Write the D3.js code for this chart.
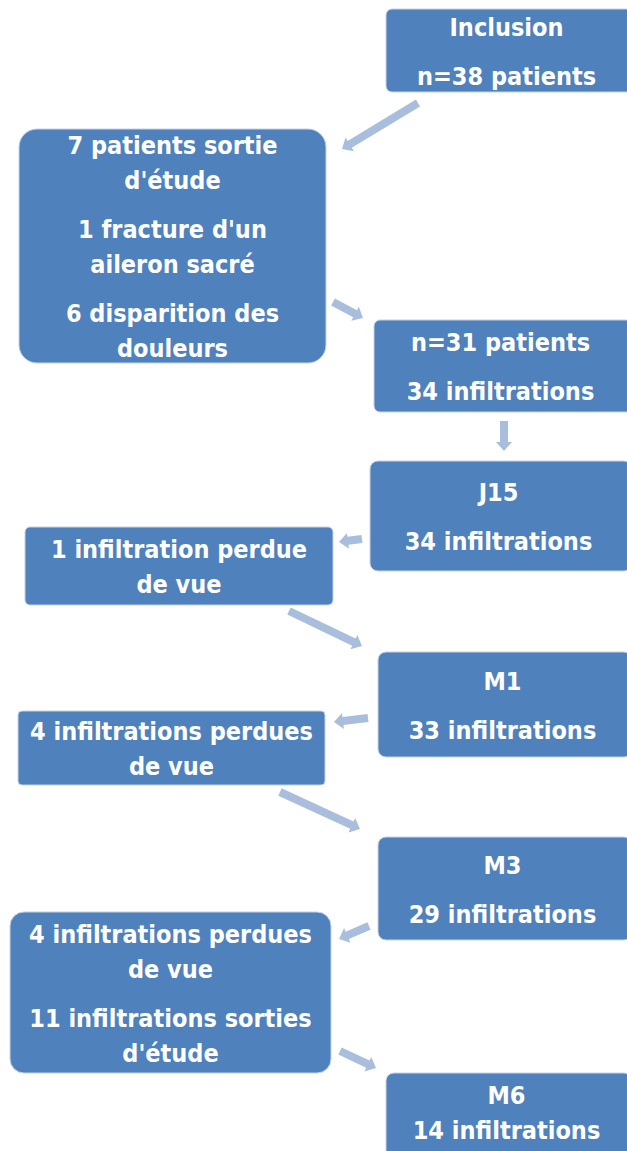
<!DOCTYPE html>
<html>
<head>
<meta charset="utf-8">
<script src="https://cdn.jsdelivr.net/npm/d3@7"></script>
<style>
  html, body { margin: 0; padding: 0; background: #fff; }
  svg { display: block; }
  .box-text { font-family: "DejaVu Sans Condensed", "DejaVu Sans", sans-serif; font-weight: bold; fill: #fff; }
</style>
</head>
<body>
<div id="chart"></div>
<script>
// Flowchart content: each box is a list of paragraphs, each paragraph a list of lines
const boxIds = ['incl', 'exit1', 'n31', 'j15', 'lost1', 'm1', 'lost2', 'm3', 'lost3', 'm6'];

const boxText = [
    [['Inclusion'], ['n=38 patients']],
    [['7 patients sortie', "d'étude"], ["1 fracture d'un", 'aileron sacré'], ['6 disparition des', 'douleurs']],
    [['n=31 patients'], ['34 infiltrations']],
    [['J15'], ['34 infiltrations']],
    [['1 infiltration perdue', 'de vue']],
    [['M1'], ['33 infiltrations']],
    [['4 infiltrations perdues', 'de vue']],
    [['M3'], ['29 infiltrations']],
    [['4 infiltrations perdues', 'de vue'], ['11 infiltrations sorties', "d'étude"]],
    [['M6', '14 infiltrations']]
];

const links = [
    ['incl', 'exit1'], ['exit1', 'n31'], ['n31', 'j15'], ['j15', 'lost1'], ['lost1', 'm1'],
    ['m1', 'lost2'], ['lost2', 'm3'], ['m3', 'lost3'], ['lost3', 'm6']
];

// Layout (pixels) — kept apart from the content
const boxLayout = {
    incl:  { x: 386, y: 9,    w: 246, h: 83,  r: 6 },
    exit1: { x: 19,  y: 129,  w: 307, h: 234, r: 18 },
    n31:   { x: 374, y: 320,  w: 258, h: 92,  r: 6 },
    j15:   { x: 370, y: 461,  w: 262, h: 110, r: 8 },
    lost1: { x: 25,  y: 527,  w: 308, h: 78,  r: 5 },
    m1:    { x: 378, y: 652,  w: 254, h: 105, r: 8 },
    lost2: { x: 18,  y: 711,  w: 307, h: 74,  r: 4 },
    m3:    { x: 378, y: 837,  w: 254, h: 103, r: 8 },
    lost3: { x: 10,  y: 912,  w: 321, h: 161, r: 14 },
    m6:    { x: 386, y: 1073, w: 246, h: 100, r: 8 }
};

const arrowLayout = [
    { x1: 418, y1: 103, x2: 342, y2: 149 },
    { x1: 333, y1: 302, x2: 363, y2: 318 },
    { x1: 504, y1: 421, x2: 504, y2: 451 },
    { x1: 362, y1: 539, x2: 339, y2: 542 },
    { x1: 289, y1: 611, x2: 362, y2: 646 },
    { x1: 368, y1: 718, x2: 334, y2: 722 },
    { x1: 280, y1: 792, x2: 360, y2: 829 },
    { x1: 369, y1: 926, x2: 339, y2: 939 },
    { x1: 340, y1: 1051, x2: 376, y2: 1068 }
];

const width = 627, height = 1151;
const boxFill = '#4F81BD';
const arrowFill = '#A9BEDC';
const fontSize = 25;
const lineGap = 35;
const paraGap = 49;

const svg = d3.select('#chart').append('svg')
    .attr('width', width)
    .attr('height', height);

// Arrows: thick shaft plus a small triangular head
function arrowPath(a) {
    const dx = a.x2 - a.x1, dy = a.y2 - a.y1;
    const len = Math.hypot(dx, dy);
    const ux = dx / len, uy = dy / len;
    const px = -uy, py = ux;
    const shaft = 4, head = 8, headLen = 9;
    const bx = a.x2 - ux * headLen, by = a.y2 - uy * headLen;
    const pts = [
        [a.x1 + px * shaft, a.y1 + py * shaft],
        [bx + px * shaft, by + py * shaft],
        [bx + px * head, by + py * head],
        [a.x2, a.y2],
        [bx - px * head, by - py * head],
        [bx - px * shaft, by - py * shaft],
        [a.x1 - px * shaft, a.y1 - py * shaft]
    ];
    return d3.line()(pts) + 'Z';
}

svg.append('g').attr('class', 'arrows')
    .selectAll('path')
    .data(links.map((l, i) => ({ link: l, geom: arrowLayout[i] })))
    .join('path')
    .attr('d', d => arrowPath(d.geom))
    .attr('fill', arrowFill);

// Boxes
const nodes = boxIds.map((id, i) => ({ id, paras: boxText[i], ...boxLayout[id] }));

const g = svg.append('g').attr('class', 'boxes')
    .selectAll('g')
    .data(nodes)
    .join('g')
    .attr('transform', d => `translate(${d.x},${d.y})`);

g.append('rect')
    .attr('width', d => d.w)
    .attr('height', d => d.h)
    .attr('rx', d => d.r)
    .attr('fill', boxFill)
    .attr('stroke', '#C5D3E8')
    .attr('stroke-width', 1);

g.each(function (d) {
    // line offsets: lineGap within a paragraph, paraGap between paragraphs
    const offsets = [];
    let y = 0;
    d.paras.forEach(p => {
        p.forEach((line, li) => {
            if (offsets.length) y += li === 0 ? paraGap : lineGap;
            offsets.push({ text: line, y });
        });
    });
    const total = y;
    const visibleH = Math.min(d.h, height - d.y);
    const top = visibleH / 2 - total / 2 + 1;
    const cx = (Math.min(d.w, width - d.x)) / 2;
    d3.select(this).selectAll('text')
        .data(offsets)
        .join('text')
        .attr('class', 'box-text')
        .attr('x', cx)
        .attr('y', o => top + o.y)
        .attr('dy', '0.35em')
        .attr('text-anchor', 'middle')
        .attr('font-size', fontSize)
        .text(o => o.text);
});
</script>
</body>
</html>
